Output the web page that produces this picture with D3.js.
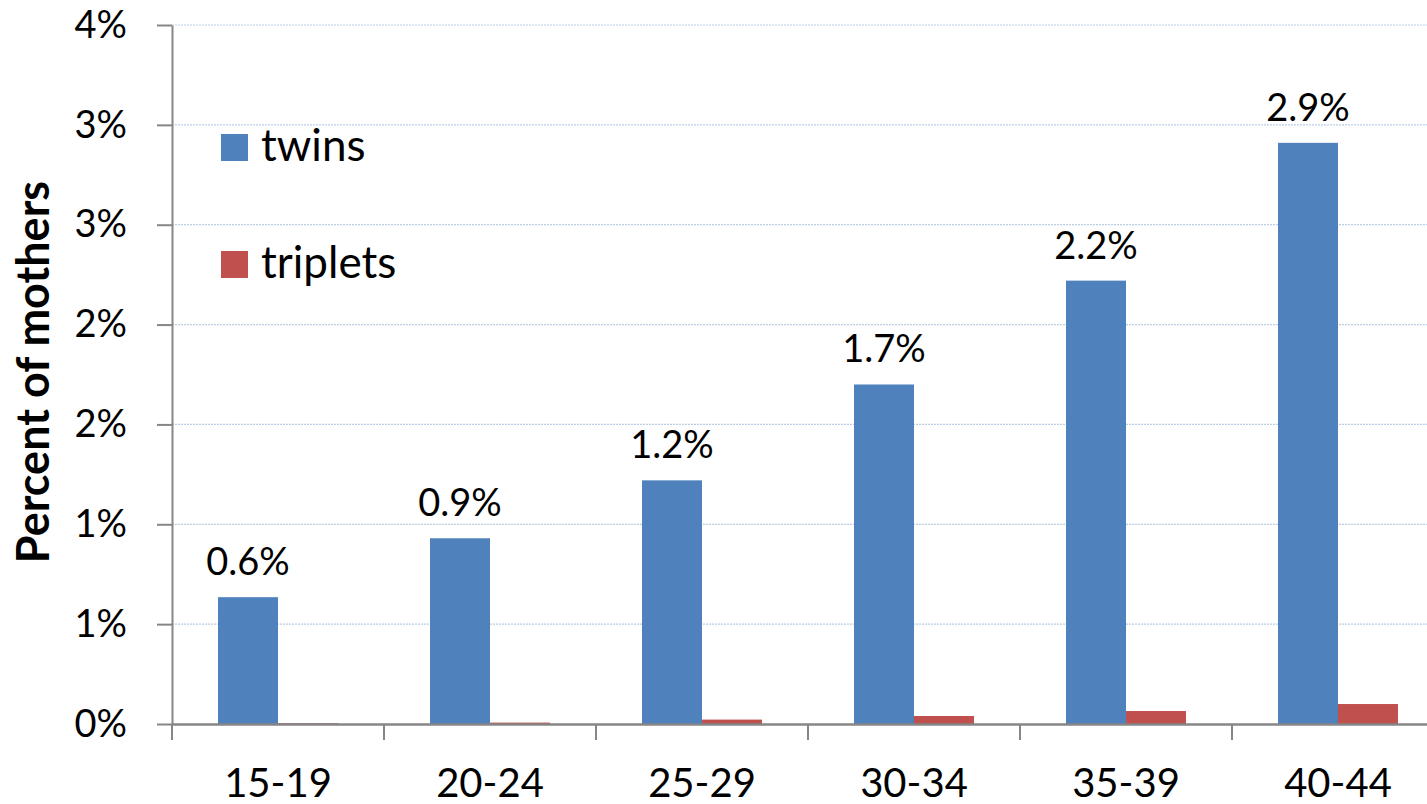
<!DOCTYPE html>
<html>
<head>
<meta charset="utf-8">
<script src="https://cdn.jsdelivr.net/npm/d3@7"></script>
<style>
  body { margin: 0; background: #fff; }
  text { font-family: Lato, "Open Sans", sans-serif; }
</style>
</head>
<body>
<div id="chart"></div>
<script>
// data (percent of mothers)
const ageGroups = ['15-19', '20-24', '25-29', '30-34', '35-39', '40-44'];
const twins = [0.635, 0.93, 1.22, 1.70, 2.22, 2.91];
const triplets = [0.004, 0.007, 0.022, 0.04, 0.065, 0.10];
const twinLabels = ['0.6%', '0.9%', '1.2%', '1.7%', '2.2%', '2.9%'];
const tickValues = [0, 0.5, 1, 1.5, 2, 2.5, 3, 3.5];
const tickLabels = ['0%', '1%', '1%', '2%', '2%', '3%', '3%', '4%'];
const seriesNames = ['twins', 'triplets'];
const colors = ['#4F81BD', '#C0504D'];

const w = 1427;
const h = 804;
const margin = { top: 25, right: -17, bottom: 80, left: 172 };
const innerHeight = h - margin.top - margin.bottom;

const svg = d3.select('#chart')
  .append('svg')
  .attr('width', w)
  .attr('height', h);

const xScale = d3.scaleBand()
  .domain(ageGroups)
  .range([margin.left, w - margin.right])
  .paddingInner(0)
  .paddingOuter(0);

const xInner = d3.scaleBand()
  .domain(seriesNames)
  .range([0, xScale.bandwidth()])
  .paddingOuter(0.7667)
  .paddingInner(0);

const yScale = d3.scaleLinear()
  .domain([0, 3.5])
  .range([margin.top + innerHeight, margin.top]);

// gridlines
svg.append('g')
  .selectAll('line')
  .data(tickValues.slice(1))
  .enter()
  .append('line')
  .attr('x1', margin.left)
  .attr('x2', w)
  .attr('y1', d => yScale(d))
  .attr('y2', d => yScale(d))
  .attr('stroke', '#B9CDE5')
  .attr('stroke-width', 1.2)
  .attr('stroke-dasharray', '2,1');

const rows = ageGroups.map((g, i) => ({ group: g, twins: twins[i], triplets: triplets[i], label: twinLabels[i] }));

const groups = svg.append('g')
  .selectAll('g')
  .data(rows)
  .enter()
  .append('g')
  .attr('transform', d => 'translate(' + xScale(d.group) + ',0)');

groups.selectAll('rect')
  .data(d => seriesNames.map((s, j) => ({ key: s, value: d[s], color: colors[j] })))
  .enter()
  .append('rect')
  .attr('x', d => xInner(d.key))
  .attr('y', d => yScale(d.value))
  .attr('width', xInner.bandwidth())
  .attr('height', d => yScale(0) - yScale(d.value))
  .attr('fill', d => d.color);

groups.append('text')
  .attr('x', xInner('twins') + xInner.bandwidth() / 2)
  .attr('y', d => yScale(d.twins) - 22)
  .attr('text-anchor', 'middle')
  .attr('font-size', 38)
  .attr('fill', '#000')
  .text(d => d.label);

// axes
const xAxis = d3.axisBottom(xScale).tickSize(0).tickPadding(45);
const gx = svg.append('g')
  .attr('transform', 'translate(0,' + yScale(0) + ')')
  .call(xAxis);
gx.select('.domain').attr('stroke', '#868686').attr('stroke-width', 2.5);
gx.selectAll('text').attr('font-size', 40).attr('fill', '#000').attr('font-family', 'Lato, sans-serif');

// category boundary ticks
svg.append('g')
  .selectAll('line')
  .data(ageGroups)
  .enter()
  .append('line')
  .attr('x1', d => xScale(d))
  .attr('x2', d => xScale(d))
  .attr('y1', yScale(0))
  .attr('y2', yScale(0) + 16)
  .attr('stroke', '#868686')
  .attr('stroke-width', 2);

const yAxis = d3.axisLeft(yScale)
  .tickValues(tickValues)
  .tickFormat((d, i) => tickLabels[i])
  .tickSize(15)
  .tickSizeOuter(0)
  .tickPadding(30);
const gy = svg.append('g')
  .attr('transform', 'translate(' + margin.left + ',0)')
  .call(yAxis);
gy.select('.domain').attr('stroke', '#868686').attr('stroke-width', 2);
gy.selectAll('.tick line').attr('stroke', '#868686').attr('stroke-width', 2);
gy.selectAll('text').attr('font-size', 38).attr('fill', '#000').attr('font-family', 'Lato, sans-serif');

// y title
svg.append('text')
  .attr('transform', 'translate(49,' + 372 + ') rotate(-90)')
  .attr('text-anchor', 'middle')
  .attr('font-size', 45)
  .attr('font-weight', 'bold')
  .attr('fill', '#000')
  .text('Percent of mothers');

// legend
const legend = svg.append('g')
  .selectAll('g')
  .data(seriesNames)
  .enter()
  .append('g')
  .attr('transform', (d, i) => 'translate(221,' + (134 + i * 117) + ')');

legend.append('rect')
  .attr('width', 27)
  .attr('height', 27)
  .attr('fill', (d, i) => colors[i]);

legend.append('text')
  .attr('x', 40)
  .attr('y', 27)
  .attr('font-size', 44)
  .attr('fill', '#000')
  .text(d => d);
</script>
</body>
</html>
